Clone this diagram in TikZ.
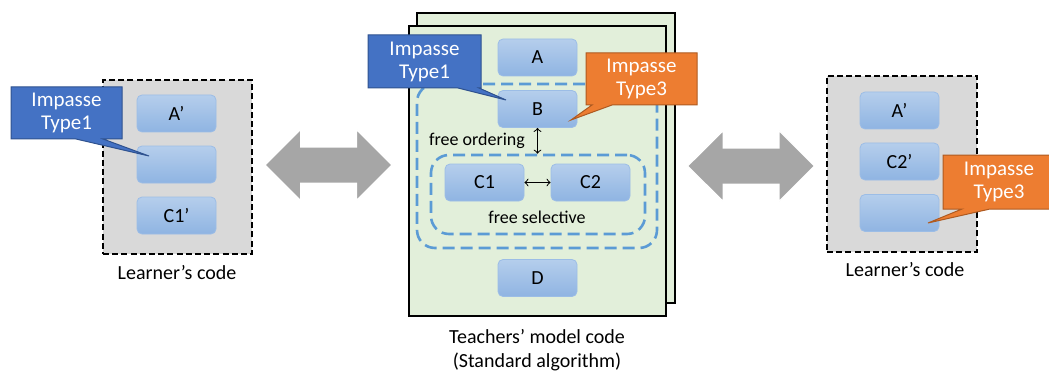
\documentclass[tikz,border=0pt]{standalone}
\usepackage{fontspec}
\setmainfont{Carlito}
\usetikzlibrary{shapes.arrows}
\definecolor{boxtop}{HTML}{B5CEEC}
\definecolor{boxbot}{HTML}{8FB4E2}
\definecolor{boxline}{HTML}{9CBDE6}
\definecolor{pagegreen}{HTML}{E2EFDA}
\definecolor{panelgray}{HTML}{D9D9D9}
\definecolor{dashblue}{HTML}{5B9BD5}
\definecolor{impblue}{HTML}{4472C4}
\definecolor{impblueline}{HTML}{2F528F}
\definecolor{imporange}{HTML}{ED7D31}
\definecolor{imporangeline}{HTML}{AE5A21}
\definecolor{arrowgray}{HTML}{A6A6A6}

\begin{document}
\begin{tikzpicture}[x=0.5pt,y=-0.5pt]

\newcommand{\boxw}{39.5pt}
\newcommand{\boxh}{18.5pt}
\tikzstyle{codebox}=[rectangle, rounded corners=2.5pt, draw=boxline,
  top color=boxtop, bottom color=boxbot,
  minimum width=\boxw, minimum height=\boxh, inner sep=0pt,
  font=\fontsize{10}{12}\selectfont]
\tikzstyle{panel}=[rectangle, draw=black, fill=panelgray, line width=0.8pt,
  dash pattern=on 3pt off 1.6pt, inner sep=0pt]
\tikzstyle{group}=[rectangle, draw=dashblue, line width=1.3pt,
  dash pattern=on 6pt off 3pt, rounded corners=9pt, inner sep=0pt]
\tikzstyle{bigarrow}=[double arrow, fill=arrowgray, draw=white, line width=0.7pt,
  inner xsep=0pt, inner ysep=8.75pt, double arrow head extend=8.75pt,
  minimum height=63.5pt]
\tikzstyle{imptext}=[align=center, text=white, inner sep=0pt,
  font=\fontsize{10.5}{11.5}\selectfont]
\tikzstyle{caption}=[align=center, inner sep=0pt,
  font=\fontsize{10}{12}\selectfont]

\useasboundingbox (0,0) rectangle (1049,374);

% left: learner's code
\node[panel, minimum width=74.5pt, minimum height=87pt] (learnL) at (177.5,167) {};
\node[codebox] (aL) at (176.5,113.5) {A’};
\node[codebox] (bL) at (176.5,164.5) {};
\node[codebox] (cL) at (176.5,215.5) {C1’};
\node[caption] (capL) at (177,273) {Learner’s code};

% right: learner's code
\node[panel, minimum width=75pt, minimum height=88pt] (learnR) at (902,164) {};
\node[codebox] (aR) at (899.5,110.5) {A’};
\node[codebox] (cR) at (899.5,161.5) {C2’};
\node[codebox] (bR) at (899.5,213) {};
\node[caption] (capR) at (905,270) {Learner’s code};

% middle: teachers' model code
\draw[fill=pagegreen, line width=0.8pt] (417,13) rectangle (675,303);
\draw[fill=pagegreen, line width=0.8pt] (409,26) rectangle (666,316);
\node[group, minimum width=120pt, minimum height=82pt] (order) at (537,166) {};
\node[group, minimum width=107pt, minimum height=39.5pt] (select) at (538,194.5) {};
\node[codebox] (A) at (537.5,57.5) {A};
\node[codebox] (B) at (537.5,109) {B};
\node[codebox] (C1) at (484.5,182.5) {C1};
\node[codebox] (C2) at (590.5,182.5) {C2};
\node[codebox] (D) at (537.5,278) {D};
\node[caption, font=\fontsize{9}{11}\selectfont] (ordering) at (477,141) {free ordering};
\node[caption, font=\fontsize{9}{11}\selectfont] (selective) at (537,217) {free selective};
\node[caption] (capM) at (537,350) {Teachers’ model code\\(Standard algorithm)};

\draw[<->, line width=0.5pt] (B.south) -- (B.south |- select.north);
\draw[<->, line width=0.5pt] (C1.east) -- (C2.west);

% big arrows
\node[bigarrow] (arrL) at (328.5,165) {};
\node[bigarrow] (arrR) at (751,166) {};

% impasse callouts
\coordinate (tipL) at (149,156);
\coordinate (tipB) at (506,100);
\coordinate (tipB3) at (571,120);
\coordinate (tipR) at (928,223);

\filldraw[fill=impblue, draw=impblueline, line width=0.5pt]
  (11,87) -- (122,87) -- (122,139) -- (103,139) -- (tipL) -- (76,139) -- (11,139) -- cycle;
\node[imptext] (impL) at (66.5,113) {Impasse\\Type1};

\filldraw[fill=impblue, draw=impblueline, line width=0.5pt]
  (368,35) -- (481,35) -- (481,88) -- (479,88) -- (tipB) -- (458,88) -- (368,88) -- cycle;
\node[imptext] (impB) at (424.5,61.5) {Impasse\\Type1};

\filldraw[fill=imporange, draw=imporangeline, line width=0.5pt]
  (586,53) -- (697,53) -- (697,105) -- (612,105) -- (tipB3) -- (592,105) -- (586,105) -- cycle;
\node[imptext] (impB3) at (641.5,79) {Impasse\\Type3};

\filldraw[fill=imporange, draw=imporangeline, line width=0.5pt]
  (943,155) -- (1056,155) -- (1056,209) -- (990,209) -- (tipR) -- (962,209) -- (943,209) -- cycle;
\node[imptext] (impR) at (999,182) {Impasse\\Type3};

\end{tikzpicture}
\end{document}
